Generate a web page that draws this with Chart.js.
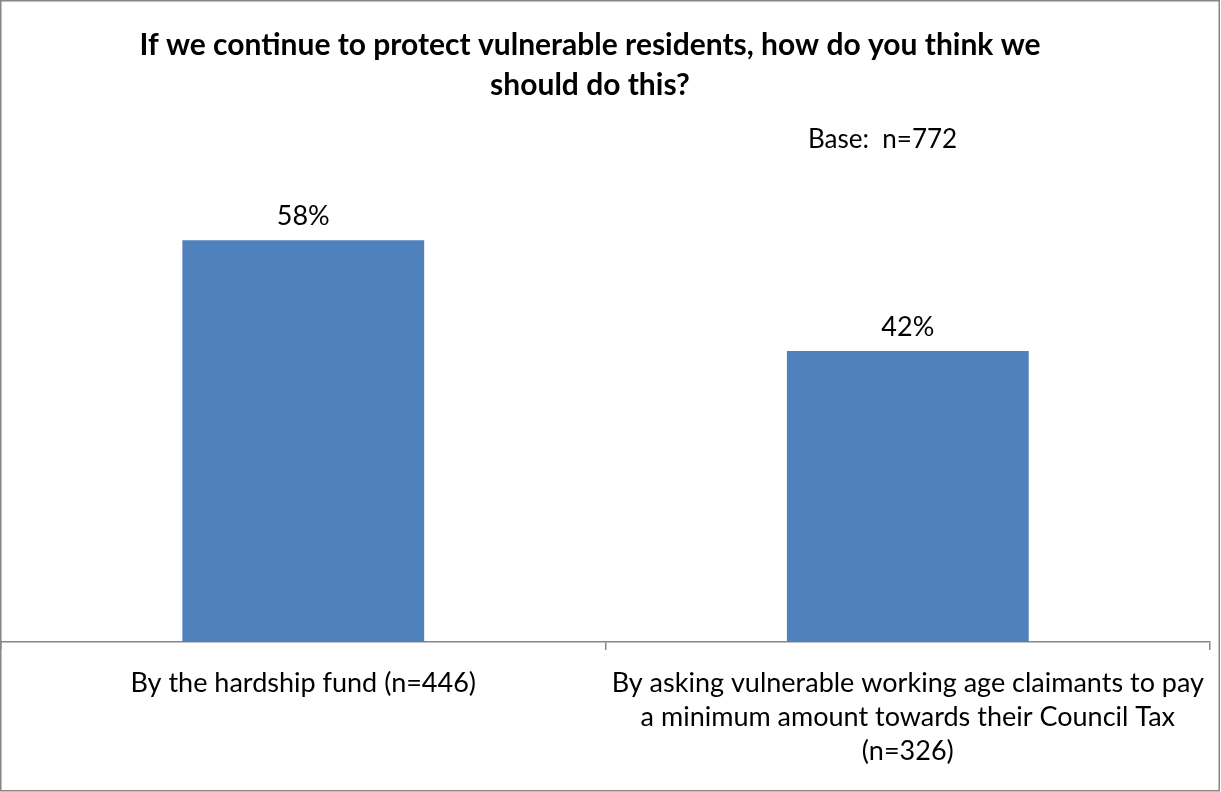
<!DOCTYPE html>
<html>
<head>
<meta charset="utf-8">
<script src="https://cdn.jsdelivr.net/npm/chart.js@4/dist/chart.umd.min.js"></script>
<style>
  html, body { margin: 0; padding: 0; background: #fff; }
  #wrap { width: 1221px; height: 792px; }
</style>
</head>
<body>
<div id="wrap"><canvas id="grafico" width="1221" height="792"></canvas></div>
<script>
// dados do gráfico
const categorias = [
    ['By the hardship fund (n=446)'],
    ['By asking vulnerable working age claimants to pay', 'a minimum amount towards their Council Tax', '(n=326)']
];
const percentuais = [58, 42];
const titulo = ['If we continue to protect vulnerable residents, how do you think we', 'should do this?'];
const textoBase = 'Base:  n=772';

const fonte = 'Lato, "Open Sans", sans-serif';

// título, rótulos em cima das barras, texto da base e moldura
const extras = {
    id: 'extras',
    afterDatasetsDraw(chart) {
        const ctx = chart.ctx;
        ctx.save();
        ctx.fillStyle = '#000';
        ctx.textAlign = 'center';
        ctx.textBaseline = 'middle';

        // título (no original fica um pouco à esquerda do centro)
        ctx.font = 'bold 30px ' + fonte;
        titulo.forEach((linha, i) => ctx.fillText(linha, 590, 45 + i * 40));

        ctx.font = '27px ' + fonte;
        chart.getDatasetMeta(0).data.forEach((bar, i) => {
            ctx.fillText(percentuais[i] + '%', bar.x, bar.y - 24);
        });

        ctx.font = '26px ' + fonte;
        ctx.textAlign = 'left';
        ctx.fillText(textoBase, 808, 140);
        ctx.restore();
    },
    afterDraw(chart) {
        const ctx = chart.ctx;
        ctx.save();
        ctx.strokeStyle = '#868686';
        ctx.lineWidth = 1.5;
        ctx.strokeRect(0.75, 0.75, 1218.5, 790);
        ctx.restore();
    }
};

new Chart(document.getElementById('grafico'), {
    type: 'bar',
    data: {
        labels: categorias,
        datasets: [{
            data: percentuais,
            backgroundColor: '#4F81BD',
            categoryPercentage: 1,
            barPercentage: 0.4
        }]
    },
    options: {
        responsive: false,
        animation: false,
        devicePixelRatio: 1,
        layout: { autoPadding: false, padding: { left: 1, right: 4, top: 157, bottom: 8 } },
        plugins: {
            legend: { display: false },
            tooltip: { enabled: false },
            title: { display: false }
        },
        scales: {
            y: { display: false, min: 0, max: 70 },
            x: {
                grid: { drawOnChartArea: false, drawTicks: true, tickLength: 8, color: '#868686', lineWidth: 1.5 },
                border: { display: true, color: '#868686', width: 1.5 },
                ticks: {
                    color: '#000',
                    maxRotation: 0,
                    autoSkip: false,
                    padding: 16,
                    font: { family: fonte, size: 27, lineHeight: 1.26 }
                }
            }
        }
    },
    plugins: [extras]
});
</script>
</body>
</html>
